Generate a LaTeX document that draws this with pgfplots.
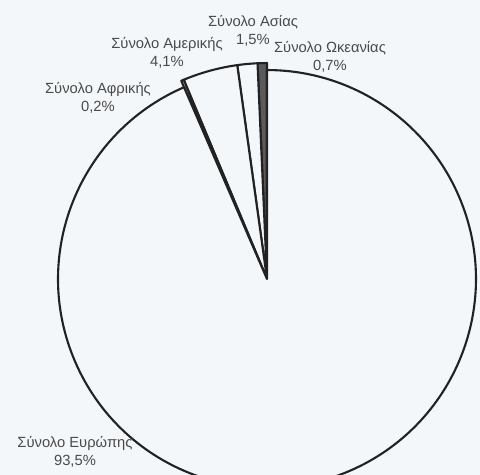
\documentclass[border=0pt]{standalone}
\usepackage{pgfplots}
\pgfplotsset{compat=1.18}
\usepackage{fontspec}
\setmainfont{Liberation Sans}
\definecolor{bg}{HTML}{F4F7F9}
\definecolor{ink}{HTML}{222222}
\definecolor{txt}{HTML}{4A4A4A}
\definecolor{darkslice}{HTML}{5A5A5A}
\begin{document}
\begin{tikzpicture}
\fill[bg, use as bounding box] (0,0) rectangle (12cm,11.875cm);
\begin{axis}[at={(0,0)}, anchor=south west, scale only axis,
  width=12cm, height=11.875cm, xmin=0, xmax=480, ymin=0, ymax=475,
  hide axis, clip=true]
% share (%), radius (px), fill
\gdef\cum{90}
\foreach \v/\r/\c in {0.7/216/darkslice, 1.5/216/bg, 4.1/216/bg, 0.2/216/bg, 93.5/209/bg}{%
  \pgfmathsetmacro{\a}{\cum}%
  \pgfmathsetmacro{\b}{\cum+3.6*\v}%
  \pgfmathsetmacro{\rr}{\r*0.025}%
  \edef\temp{\noexpand\filldraw[fill=\c, draw=ink, line width=1.5pt, line join=round]
    (axis cs:267,196) -- ++(\a:\rr cm) arc[start angle=\a, end angle=\b, radius=\rr cm] -- cycle;}%
  \temp
  \xdef\cum{\b}%
}
\tikzset{lbl/.style={align=center, text=txt, font=\fontsize{10.5}{12.8}\selectfont, inner sep=0pt}}
\node[lbl] at (axis cs:253,444) {Σύνολο Ασίας\\1,5\%};
\node[lbl] at (axis cs:167,422) {Σύνολο Αμερικής\\4,1\%};
\node[lbl] at (axis cs:330,418) {Σύνολο Ωκεανίας\\0,7\%};
\node[lbl] at (axis cs:98,377) {Σύνολο Αφρικής\\0,2\%};
\node[lbl] at (axis cs:75,23) {Σύνολο Ευρώπης\\93,5\%};
\end{axis}
\end{tikzpicture}
\end{document}
